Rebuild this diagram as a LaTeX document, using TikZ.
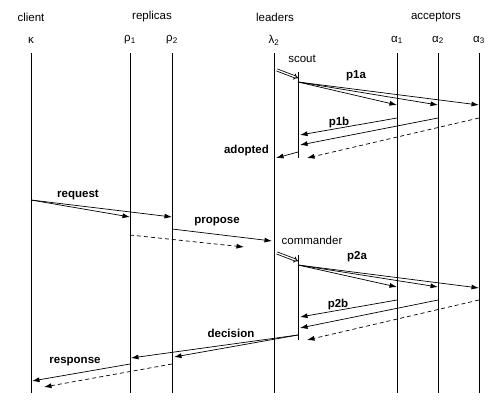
\documentclass[tikz,border=0pt]{standalone}
\usepackage{fontspec}
\setmainfont{Liberation Sans}
\usetikzlibrary{arrows.meta,calc}
\tikzstyle{head}=[font=\fontsize{11.5}{13}\selectfont, inner sep=0pt]
\tikzstyle{lbl}=[font=\fontsize{11.5}{13}\selectfont\bfseries, inner sep=0pt]
\tikzstyle{life}=[draw, line width=0.9pt]
\tikzstyle{msg}=[-{Latex[length=7.5pt,width=5pt]}, line width=0.7pt]
\tikzstyle{lost}=[msg, dashed, dash pattern=on 4pt off 3pt]
\tikzstyle{spawn}=[double, double distance=1.3pt, line width=0.8pt, -{Implies}]

\begin{document}
\begin{tikzpicture}[x=1pt,y=-1pt]
  \useasboundingbox (0,0) rectangle (494,404);

  % roles
  \node(client)[head] at (31,17) {client};
  \node(replicas)[head] at (152,17) {replicas};
  \node(leaders)[head] at (275,17) {leaders};
  \node(acceptors)[head] at (436,17) {acceptors};

  % processes
  \node(kappa)[head] at (31,40) {κ};
  \node(rho1)[head] at (130,40) {ρ\textsubscript{1}};
  \node(rho2)[head] at (172,40) {ρ\textsubscript{2}};
  \node(lambda)[head] at (274,40) {λ\textsubscript{2}};
  \node(alpha1)[head] at (397,40) {α\textsubscript{1}};
  \node(alpha2)[head] at (438,40) {α\textsubscript{2}};
  \node(alpha3)[head] at (479,40) {α\textsubscript{3}};

  \foreach \p in {kappa,rho1,rho2,lambda,alpha1,alpha2,alpha3}
    \draw[life] (\p |- 0,53) -- (\p |- 0,393);

  % scout
  \coordinate(sub) at (298,0);
  \node(scout)[head] at (302,59) {scout};
  \draw[life] (sub |- 0,72) -- (sub |- 0,158);
  \draw[spawn] ($(lambda |- 0,70)+(3,0)$) -- (sub |- 0,78);

  \draw[msg] (sub |- 0,82) -- (alpha1 |- 0,105);
  \draw[msg] (sub |- 0,82) -- (alpha2 |- 0,105);
  \draw[msg] (sub |- 0,82) -- (alpha3 |- 0,105);
  \node(p1a)[lbl] at (356,76) {p1a};

  \draw[msg] (alpha1 |- 0,118) -- ($(sub |- 0,135)+(2,0)$);
  \draw[msg] (alpha2 |- 0,118) -- ($(sub |- 0,145)+(2,0)$);
  \draw[lost] (alpha3 |- 0,118) -- ($(sub |- 0,158)+(9,0)$);
  \node(p1b)[lbl] at (339,123) {p1b};

  \draw[msg] (sub |- 0,152) -- ($(lambda |- 0,158)+(2,0)$);
  \node(adopted)[lbl, anchor=east] at (269,151) {adopted};

  % request and propose
  \draw[msg] (kappa |- 0,200) -- (rho1 |- 0,217);
  \draw[msg] (kappa |- 0,200) -- (rho2 |- 0,217);
  \node(request)[lbl] at (78,195) {request};

  \draw[msg] (rho2 |- 0,229) -- ($(lambda |- 0,241)+(-2,0)$);
  \draw[lost] (rho1 |- 0,235) -- ($(lambda |- 0,247)+(-30,0)$);
  \node(propose)[lbl] at (217,222) {propose};

  % commander
  \coordinate(com) at (298,0);
  \node(commander)[head] at (312,240) {commander};
  \draw[life] (com |- 0,255) -- (com |- 0,340);
  \draw[spawn] ($(lambda |- 0,253)+(3,0)$) -- (com |- 0,261);

  \draw[msg] (com |- 0,265) -- (alpha1 |- 0,287);
  \draw[msg] (com |- 0,265) -- (alpha2 |- 0,287);
  \draw[msg] (com |- 0,265) -- (alpha3 |- 0,288);
  \node(p2a)[lbl] at (357,257) {p2a};

  \draw[msg] (alpha1 |- 0,300) -- ($(com |- 0,317)+(2,0)$);
  \draw[msg] (alpha2 |- 0,300) -- ($(com |- 0,328)+(2,0)$);
  \draw[lost] (alpha3 |- 0,300) -- ($(com |- 0,340)+(9,0)$);
  \node(p2b)[lbl] at (338,305) {p2b};

  % decision and response
  \draw[msg] (com |- 0,335) -- ($(rho1 |- 0,358)+(1,0)$);
  \draw[msg] (com |- 0,335) -- ($(rho2 |- 0,357)+(2,0)$);
  \node(decision)[lbl] at (231,333) {decision};

  \draw[msg] (rho1 |- 0,364) -- ($(kappa |- 0,381)+(1,0)$);
  \draw[lost] (rho2 |- 0,364) -- ($(kappa |- 0,387)+(13,0)$);
  \node(response)[lbl] at (75,362) {response};
\end{tikzpicture}
\end{document}
